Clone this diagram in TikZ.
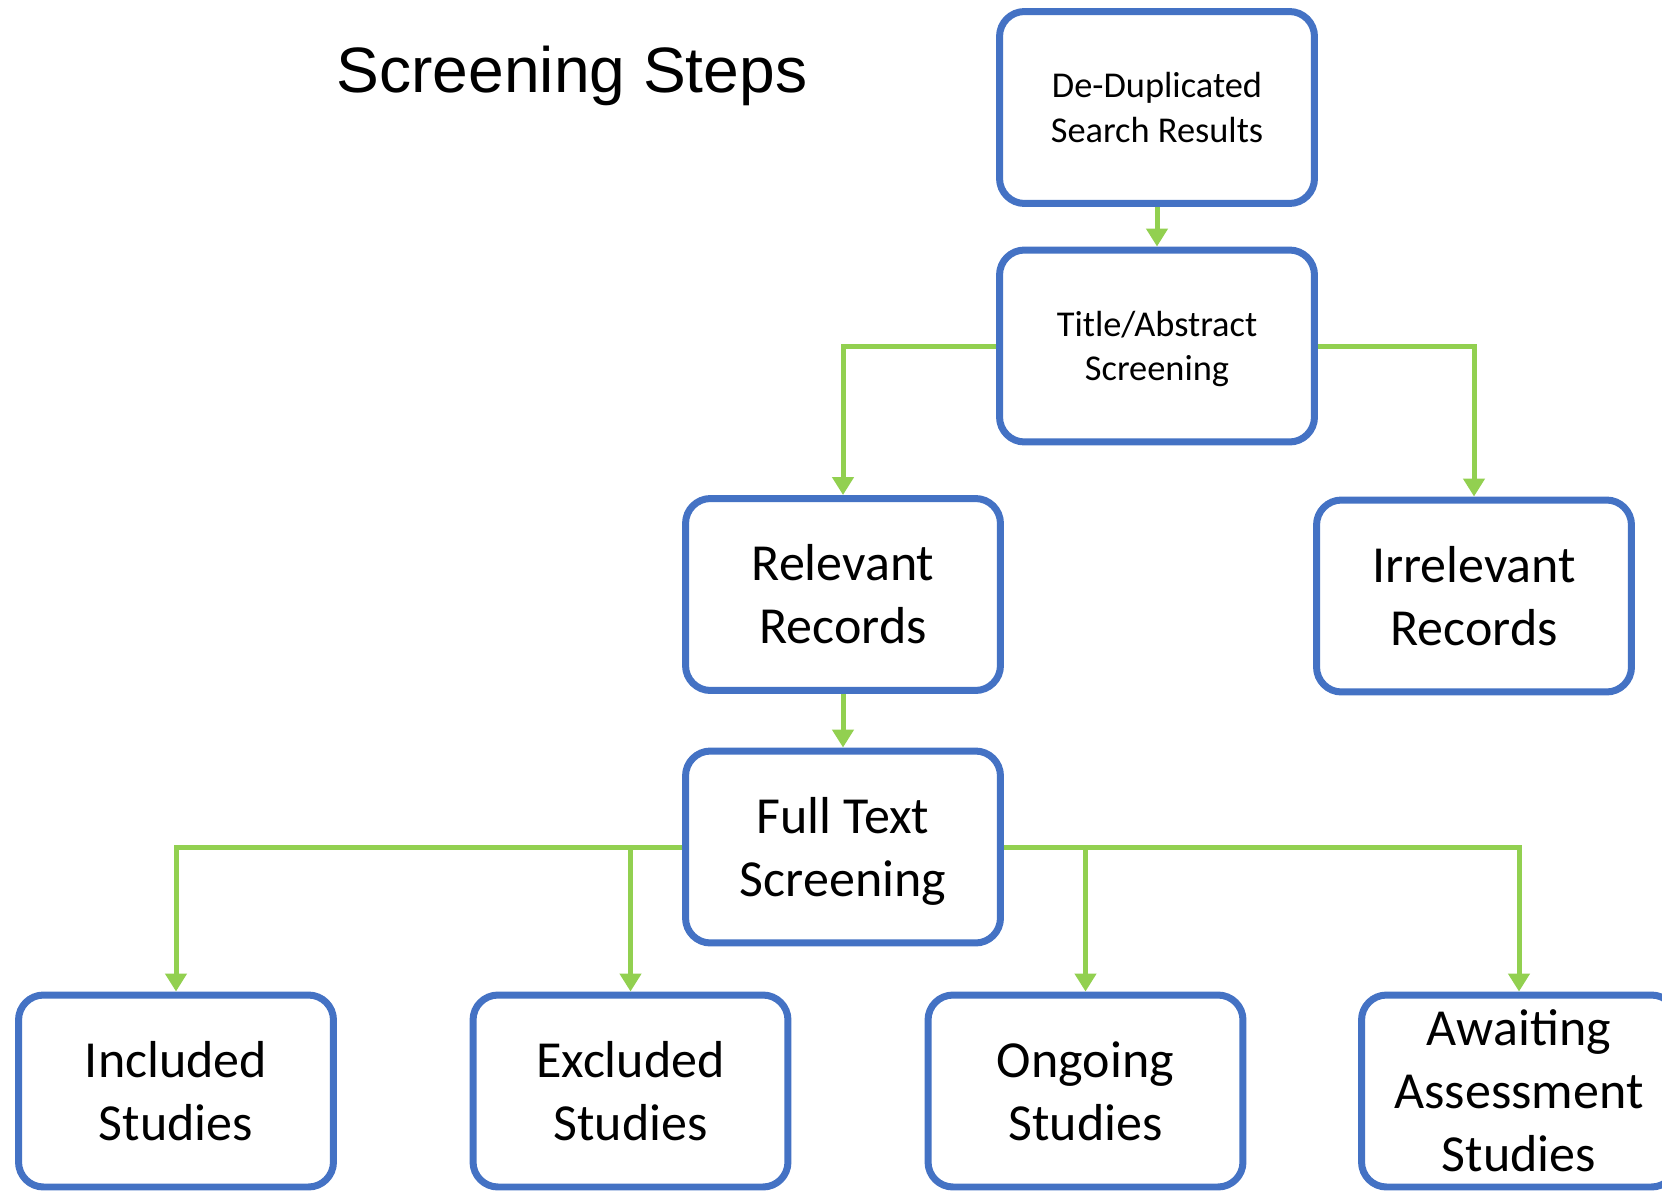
\documentclass[tikz,border=0pt]{standalone}
\usepackage{fontspec}
\setmainfont{Carlito}
\newfontfamily\titlefont{Liberation Sans}
\usetikzlibrary{arrows.meta}
\definecolor{boxblue}{HTML}{4472C4}
\definecolor{flowgreen}{HTML}{92D050}
\newcommand{\nodepth}[1]{\raisebox{0pt}[\height][0pt]{#1}}

\begin{document}
\begin{tikzpicture}[x=0.02cm,y=-0.02cm,
        stepbox/.style={draw=boxblue,fill=white,line width=0.14cm,rounded corners=0.5cm,
                minimum width=6.3cm,minimum height=3.84cm,inner sep=0pt,align=center},
        smalltext/.style={font=\fontsize{20.7}{25.2}\selectfont},
        bigtext/.style={font=\fontsize{29.6}{35.9}\selectfont},
        flow/.style={draw=flowgreen,line width=0.1cm,
                -{Triangle[length=0.36cm,width=0.42cm]}}]
        \useasboundingbox (0,0) rectangle (1662,1190);
        %\draw[step=100,gray,very thin] (0,0) grid (1662,1190);
        \node[font=\titlefont\fontsize{36.5}{44}\selectfont,anchor=base] (title) at (572,92) {Screening Steps};
        % top of the tree
        \node[stepbox,smalltext] (dedup) at (1157,107.5) {De-Duplicated\\Search Results};
        \node[stepbox,smalltext] (abstract) at (1157,346) {Title/Abstract\\\nodepth{Screening}};
        \node[stepbox,bigtext] (relevant) at (843,594.5) {Relevant\\Records};
        \node[stepbox,bigtext] (irrelevant) at (1474,596) {Irrelevant\\Records};
        \node[stepbox,bigtext] (fulltext) at (843,847) {Full Text\\\nodepth{Screening}};
        % bottom row
        \node[stepbox,bigtext] (included) at (176,1091) {Included\\Studies};
        \node[stepbox,bigtext] (excluded) at (630.5,1091) {Excluded\\Studies};
        \node[stepbox,bigtext] (ongoing) at (1085.5,1091) {Ongoing\\Studies};
        \node[stepbox,bigtext] (awaiting) at (1519,1091) {Awaiting\\Assessment\\Studies};
        \draw[flow] (dedup.south) -- (abstract.north);
        \draw[flow] (abstract.west) -| (relevant.north);
        \draw[flow] (abstract.east) -| (irrelevant.north);
        \draw[flow] (relevant.south) -- (fulltext.north);
        \draw[flow] (fulltext.west) -| (included.north);
        \draw[flow] (fulltext.west) -| (excluded.north);
        \draw[flow] (fulltext.east) -| (ongoing.north);
        \draw[flow] (fulltext.east) -| (awaiting.north);
\end{tikzpicture}
\end{document}
